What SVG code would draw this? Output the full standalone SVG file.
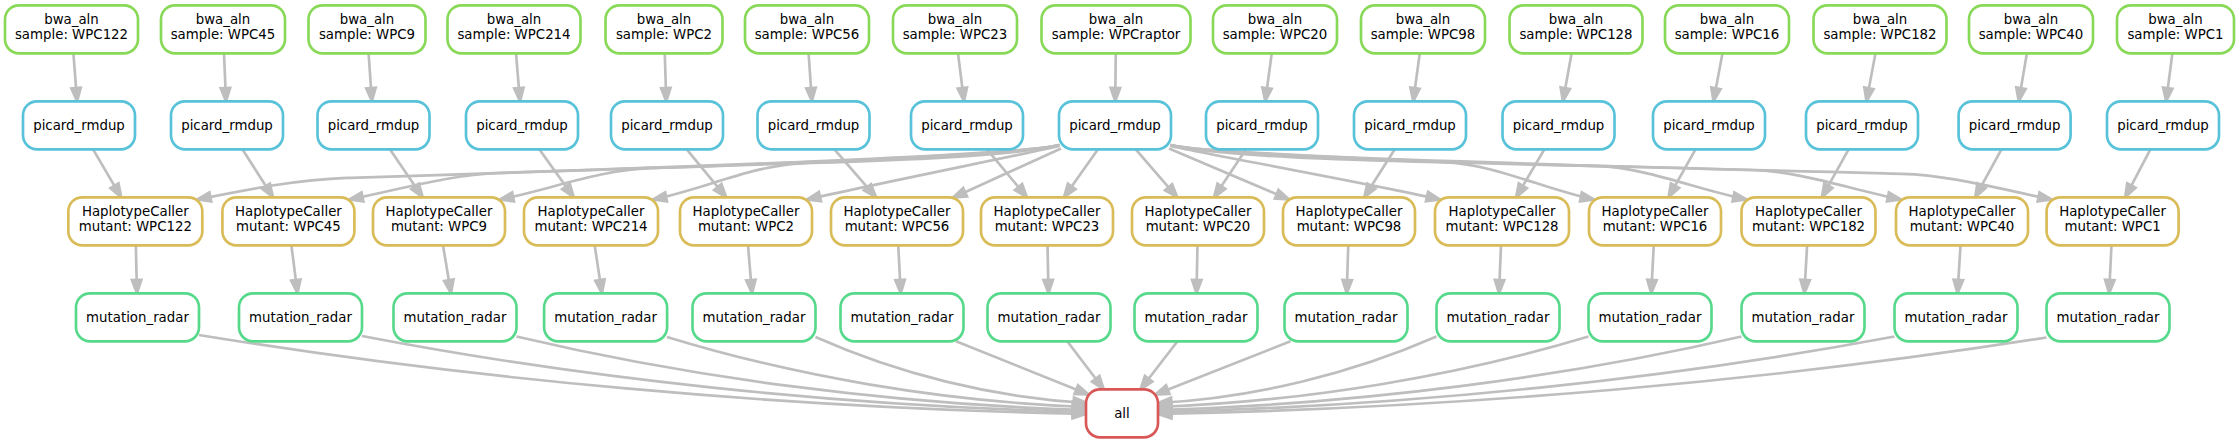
<svg xmlns="http://www.w3.org/2000/svg" width="2239" height="443" viewBox="0 0 2239 443">
<style>
.node rect { fill:#ffffff; stroke-width:2.67; }
.bwa rect { stroke:#88d957; }
.pic rect { stroke:#57c2d9; }
.hc rect { stroke:#d9bc57; }
.mr rect { stroke:#57d98b; }
.all rect { stroke:#d95757; }
text { font-family:"DejaVu Sans", "Liberation Sans", sans-serif; font-size:13.33px; text-anchor:middle; fill:#000000; }
#edges path { fill:none; stroke:#bebebe; stroke-width:2.67; marker-end:url(#ah); }
</style>
<defs>
<marker id="ah" markerUnits="userSpaceOnUse" orient="auto" refX="13.3" refY="0" markerWidth="20" markerHeight="20" style="overflow:visible">
<path d="M0,-4.7 L13.3,0 L0,4.7 Z" fill="#bebebe" stroke="#bebebe" stroke-width="2.67"/>
</marker>
</defs>
<rect width="2239" height="443" fill="#ffffff"/>
<g id="edges">
<path d="M73.4,53.3 L77.1,101.3"/>
<path d="M224,53.3 L226,101.3"/>
<path d="M368.6,53.3 L371.9,101.3"/>
<path d="M516,53.3 L520,101.3"/>
<path d="M664.75,53.3 L666.25,101.3"/>
<path d="M808.6,53.3 L811.9,101.3"/>
<path d="M958,53.3 L964,101.3"/>
<path d="M1115.75,53.3 L1115.25,101.3"/>
<path d="M1271.75,53.3 L1265.25,101.3"/>
<path d="M1419.75,53.3 L1413.25,101.3"/>
<path d="M1571.6,53.3 L1562.9,101.3"/>
<path d="M1722.5,53.3 L1713.5,101.3"/>
<path d="M1875.5,53.3 L1866.5,101.3"/>
<path d="M2026.9,53.3 L2018.7,101.3"/>
<path d="M2172.4,53.3 L2166.1,101.3"/>
<path d="M93.1,149.3 L121.2,197.3"/>
<path d="M242.4,149.3 L273.05,197.3"/>
<path d="M389.9,149.3 L422.6,197.3"/>
<path d="M539.25,149.3 L573.75,197.3"/>
<path d="M686.75,149.3 L726.25,197.3"/>
<path d="M834.4,149.3 L876.1,197.3"/>
<path d="M987,149.3 L1027,197.3"/>
<path d="M1246,149.3 L1214,197.3"/>
<path d="M1394.75,149.3 L1364.25,197.3"/>
<path d="M1544.4,149.3 L1516.1,197.3"/>
<path d="M1695.5,149.3 L1668.5,197.3"/>
<path d="M1848.6,149.3 L1821.9,197.3"/>
<path d="M2001.45,149.3 L1975.15,197.3"/>
<path d="M2150.4,149.3 L2125.2,197.3"/>
<path d="M1098,149.3 L1064,197.3"/>
<path d="M1135.75,149.3 L1177.25,197.3"/>
<path d="M1061,148.5 L953,197.7"/>
<path d="M1169,148.5 L1289,199.4"/>
<path d="M1059.5,146 C1030,153 870,185 807,199.5"/>
<path d="M1170.5,146 C1200,153 1377,185 1440,199.5"/>
<path d="M1059.5,145 C1010,157 880,160.8 803,163.3 C753,164.9 703,189.5 653,199.5"/>
<path d="M1059.5,145 C1010,157 772.9,164.3 650,168.2 C600,169.8 550,189.5 500,199.5"/>
<path d="M1059.5,145 C1010,157 667.4,167.6 499.4,173 C449.4,174.6 399.4,189.5 349.4,199.5"/>
<path d="M1059.5,145 C1010,157 561,171.1 347.3,177.9 C297.3,179.5 247.3,189.5 197.3,199.5"/>
<path d="M1170.5,145 C1220,157 1362,160.3 1444,162.35 C1494,163.6 1544,189.5 1594,199.5"/>
<path d="M1170.5,145 C1220,157 1468.7,163 1596.5,166.2 C1646.5,167.4 1696.5,189.5 1746.5,199.5"/>
<path d="M1170.5,145 C1220,157 1576.8,165.7 1751,170 C1801,171.3 1851,189.5 1901,199.5"/>
<path d="M1170.5,145 C1220,157 1682.3,168.3 1901.6,173.8 C1951.6,175.1 2001.6,189.5 2051.6,199.5"/>
<path d="M135.85,245.3 L136.95,293.3"/>
<path d="M291.4,245.3 L297.5,293.3"/>
<path d="M443,245.3 L451,293.3"/>
<path d="M594.65,245.3 L601.95,293.3"/>
<path d="M748,245.3 L752,293.3"/>
<path d="M898.25,245.3 L900.75,293.3"/>
<path d="M1047.5,245.3 L1048.5,293.3"/>
<path d="M1197.5,245.3 L1196.5,293.3"/>
<path d="M1348.25,245.3 L1346.75,293.3"/>
<path d="M1501,245.3 L1499,293.3"/>
<path d="M1653.75,245.3 L1651.25,293.3"/>
<path d="M1807.1,245.3 L1804.4,293.3"/>
<path d="M1960.5,245.3 L1957.5,293.3"/>
<path d="M2111.45,245.3 L2109.15,293.3"/>
<path d="M199,335 C465,378.5 776,407.7 1086,414"/>
<path d="M362,336 C579.2,377.8 832.6,405.9 1086,412"/>
<path d="M516.5,336.5 C687.4,376.9 886.7,404.1 1086,410"/>
<path d="M667,337 C792.7,375.5 939.4,401.4 1086,407"/>
<path d="M815.5,337 C897,373.3 992,397.7 1087,403"/>
<path d="M956,341.3 L1088.6,394.5"/>
<path d="M1067.25,341.3 L1103.75,389.3"/>
<path d="M1177.5,341.3 L1140.5,389.3"/>
<path d="M1290.5,341.3 L1155.4,394.5"/>
<path d="M1436.5,336.5 C1352.9,373.1 1255.5,397.7 1158,403"/>
<path d="M1588.5,336.5 C1459.4,375.3 1308.7,401.4 1158,407"/>
<path d="M1741.5,336.5 C1566.5,376.9 1362.2,404.1 1158,410"/>
<path d="M1894.5,336.5 C1673.6,378 1415.8,406 1158,412"/>
<path d="M2046.5,337.5 C1780,379.6 1469,407.9 1158,414"/>
</g>
<g id="n_bwa_WPC122" class="node bwa"><rect x="5" y="5.3" width="133" height="48" rx="14"/><text x="71.5" y="24.3">bwa_aln</text><text x="71.5" y="38.9">sample: WPC122</text></g>
<g id="n_bwa_WPC45" class="node bwa"><rect x="161" y="5.3" width="124" height="48" rx="14"/><text x="223" y="24.3">bwa_aln</text><text x="223" y="38.9">sample: WPC45</text></g>
<g id="n_bwa_WPC9" class="node bwa"><rect x="308.5" y="5.3" width="117" height="48" rx="14"/><text x="367" y="24.3">bwa_aln</text><text x="367" y="38.9">sample: WPC9</text></g>
<g id="n_bwa_WPC214" class="node bwa"><rect x="447.5" y="5.3" width="133" height="48" rx="14"/><text x="514" y="24.3">bwa_aln</text><text x="514" y="38.9">sample: WPC214</text></g>
<g id="n_bwa_WPC2" class="node bwa"><rect x="605.5" y="5.3" width="117" height="48" rx="14"/><text x="664" y="24.3">bwa_aln</text><text x="664" y="38.9">sample: WPC2</text></g>
<g id="n_bwa_WPC56" class="node bwa"><rect x="745" y="5.3" width="124" height="48" rx="14"/><text x="807" y="24.3">bwa_aln</text><text x="807" y="38.9">sample: WPC56</text></g>
<g id="n_bwa_WPC23" class="node bwa"><rect x="893" y="5.3" width="124" height="48" rx="14"/><text x="955" y="24.3">bwa_aln</text><text x="955" y="38.9">sample: WPC23</text></g>
<g id="n_bwa_WPCraptor" class="node bwa"><rect x="1041.5" y="5.3" width="149" height="48" rx="14"/><text x="1116" y="24.3">bwa_aln</text><text x="1116" y="38.9">sample: WPCraptor</text></g>
<g id="n_bwa_WPC20" class="node bwa"><rect x="1213" y="5.3" width="124" height="48" rx="14"/><text x="1275" y="24.3">bwa_aln</text><text x="1275" y="38.9">sample: WPC20</text></g>
<g id="n_bwa_WPC98" class="node bwa"><rect x="1361" y="5.3" width="124" height="48" rx="14"/><text x="1423" y="24.3">bwa_aln</text><text x="1423" y="38.9">sample: WPC98</text></g>
<g id="n_bwa_WPC128" class="node bwa"><rect x="1509.5" y="5.3" width="133" height="48" rx="14"/><text x="1576" y="24.3">bwa_aln</text><text x="1576" y="38.9">sample: WPC128</text></g>
<g id="n_bwa_WPC16" class="node bwa"><rect x="1665" y="5.3" width="124" height="48" rx="14"/><text x="1727" y="24.3">bwa_aln</text><text x="1727" y="38.9">sample: WPC16</text></g>
<g id="n_bwa_WPC182" class="node bwa"><rect x="1813.5" y="5.3" width="133" height="48" rx="14"/><text x="1880" y="24.3">bwa_aln</text><text x="1880" y="38.9">sample: WPC182</text></g>
<g id="n_bwa_WPC40" class="node bwa"><rect x="1969" y="5.3" width="124" height="48" rx="14"/><text x="2031" y="24.3">bwa_aln</text><text x="2031" y="38.9">sample: WPC40</text></g>
<g id="n_bwa_WPC1" class="node bwa"><rect x="2117" y="5.3" width="117" height="48" rx="14"/><text x="2175.5" y="24.3">bwa_aln</text><text x="2175.5" y="38.9">sample: WPC1</text></g>
<g id="n_pic_WPC122" class="node pic"><rect x="23" y="101.3" width="112" height="48" rx="14"/><text x="79" y="130.2">picard_rmdup</text></g>
<g id="n_pic_WPC45" class="node pic"><rect x="171" y="101.3" width="112" height="48" rx="14"/><text x="227" y="130.2">picard_rmdup</text></g>
<g id="n_pic_WPC9" class="node pic"><rect x="317.5" y="101.3" width="112" height="48" rx="14"/><text x="373.5" y="130.2">picard_rmdup</text></g>
<g id="n_pic_WPC214" class="node pic"><rect x="466" y="101.3" width="112" height="48" rx="14"/><text x="522" y="130.2">picard_rmdup</text></g>
<g id="n_pic_WPC2" class="node pic"><rect x="611" y="101.3" width="112" height="48" rx="14"/><text x="667" y="130.2">picard_rmdup</text></g>
<g id="n_pic_WPC56" class="node pic"><rect x="757.5" y="101.3" width="112" height="48" rx="14"/><text x="813.5" y="130.2">picard_rmdup</text></g>
<g id="n_pic_WPC23" class="node pic"><rect x="911" y="101.3" width="112" height="48" rx="14"/><text x="967" y="130.2">picard_rmdup</text></g>
<g id="n_pic_WPCraptor" class="node pic"><rect x="1059" y="101.3" width="112" height="48" rx="14"/><text x="1115" y="130.2">picard_rmdup</text></g>
<g id="n_pic_WPC20" class="node pic"><rect x="1206" y="101.3" width="112" height="48" rx="14"/><text x="1262" y="130.2">picard_rmdup</text></g>
<g id="n_pic_WPC98" class="node pic"><rect x="1354" y="101.3" width="112" height="48" rx="14"/><text x="1410" y="130.2">picard_rmdup</text></g>
<g id="n_pic_WPC128" class="node pic"><rect x="1502.5" y="101.3" width="112" height="48" rx="14"/><text x="1558.5" y="130.2">picard_rmdup</text></g>
<g id="n_pic_WPC16" class="node pic"><rect x="1653" y="101.3" width="112" height="48" rx="14"/><text x="1709" y="130.2">picard_rmdup</text></g>
<g id="n_pic_WPC182" class="node pic"><rect x="1806" y="101.3" width="112" height="48" rx="14"/><text x="1862" y="130.2">picard_rmdup</text></g>
<g id="n_pic_WPC40" class="node pic"><rect x="1958.6" y="101.3" width="112" height="48" rx="14"/><text x="2014.6" y="130.2">picard_rmdup</text></g>
<g id="n_pic_WPC1" class="node pic"><rect x="2107" y="101.3" width="112" height="48" rx="14"/><text x="2163" y="130.2">picard_rmdup</text></g>
<g id="n_hc_WPC122" class="node hc"><rect x="68.3" y="197.3" width="134" height="48" rx="14"/><text x="135.3" y="216.2">HaplotypeCaller</text><text x="135.3" y="230.9">mutant: WPC122</text></g>
<g id="n_hc_WPC45" class="node hc"><rect x="222.4" y="197.3" width="132" height="48" rx="14"/><text x="288.4" y="216.2">HaplotypeCaller</text><text x="288.4" y="230.9">mutant: WPC45</text></g>
<g id="n_hc_WPC9" class="node hc"><rect x="373" y="197.3" width="132" height="48" rx="14"/><text x="439" y="216.2">HaplotypeCaller</text><text x="439" y="230.9">mutant: WPC9</text></g>
<g id="n_hc_WPC214" class="node hc"><rect x="524" y="197.3" width="134" height="48" rx="14"/><text x="591" y="216.2">HaplotypeCaller</text><text x="591" y="230.9">mutant: WPC214</text></g>
<g id="n_hc_WPC2" class="node hc"><rect x="680" y="197.3" width="132" height="48" rx="14"/><text x="746" y="216.2">HaplotypeCaller</text><text x="746" y="230.9">mutant: WPC2</text></g>
<g id="n_hc_WPC56" class="node hc"><rect x="831" y="197.3" width="132" height="48" rx="14"/><text x="897" y="216.2">HaplotypeCaller</text><text x="897" y="230.9">mutant: WPC56</text></g>
<g id="n_hc_WPC23" class="node hc"><rect x="981" y="197.3" width="132" height="48" rx="14"/><text x="1047" y="216.2">HaplotypeCaller</text><text x="1047" y="230.9">mutant: WPC23</text></g>
<g id="n_hc_WPC20" class="node hc"><rect x="1132" y="197.3" width="132" height="48" rx="14"/><text x="1198" y="216.2">HaplotypeCaller</text><text x="1198" y="230.9">mutant: WPC20</text></g>
<g id="n_hc_WPC98" class="node hc"><rect x="1283" y="197.3" width="132" height="48" rx="14"/><text x="1349" y="216.2">HaplotypeCaller</text><text x="1349" y="230.9">mutant: WPC98</text></g>
<g id="n_hc_WPC128" class="node hc"><rect x="1435" y="197.3" width="134" height="48" rx="14"/><text x="1502" y="216.2">HaplotypeCaller</text><text x="1502" y="230.9">mutant: WPC128</text></g>
<g id="n_hc_WPC16" class="node hc"><rect x="1589" y="197.3" width="132" height="48" rx="14"/><text x="1655" y="216.2">HaplotypeCaller</text><text x="1655" y="230.9">mutant: WPC16</text></g>
<g id="n_hc_WPC182" class="node hc"><rect x="1741.5" y="197.3" width="134" height="48" rx="14"/><text x="1808.5" y="216.2">HaplotypeCaller</text><text x="1808.5" y="230.9">mutant: WPC182</text></g>
<g id="n_hc_WPC40" class="node hc"><rect x="1896" y="197.3" width="132" height="48" rx="14"/><text x="1962" y="216.2">HaplotypeCaller</text><text x="1962" y="230.9">mutant: WPC40</text></g>
<g id="n_hc_WPC1" class="node hc"><rect x="2046.6" y="197.3" width="132" height="48" rx="14"/><text x="2112.6" y="216.2">HaplotypeCaller</text><text x="2112.6" y="230.9">mutant: WPC1</text></g>
<g id="n_mr_WPC122" class="node mr"><rect x="76" y="293.3" width="123" height="48" rx="14"/><text x="137.5" y="322.2">mutation_radar</text></g>
<g id="n_mr_WPC45" class="node mr"><rect x="239" y="293.3" width="123" height="48" rx="14"/><text x="300.5" y="322.2">mutation_radar</text></g>
<g id="n_mr_WPC9" class="node mr"><rect x="393.5" y="293.3" width="123" height="48" rx="14"/><text x="455" y="322.2">mutation_radar</text></g>
<g id="n_mr_WPC214" class="node mr"><rect x="544.1" y="293.3" width="123" height="48" rx="14"/><text x="605.6" y="322.2">mutation_radar</text></g>
<g id="n_mr_WPC2" class="node mr"><rect x="692.5" y="293.3" width="123" height="48" rx="14"/><text x="754" y="322.2">mutation_radar</text></g>
<g id="n_mr_WPC56" class="node mr"><rect x="840.5" y="293.3" width="123" height="48" rx="14"/><text x="902" y="322.2">mutation_radar</text></g>
<g id="n_mr_WPC23" class="node mr"><rect x="987.5" y="293.3" width="123" height="48" rx="14"/><text x="1049" y="322.2">mutation_radar</text></g>
<g id="n_mr_WPC20" class="node mr"><rect x="1134.5" y="293.3" width="123" height="48" rx="14"/><text x="1196" y="322.2">mutation_radar</text></g>
<g id="n_mr_WPC98" class="node mr"><rect x="1284.5" y="293.3" width="123" height="48" rx="14"/><text x="1346" y="322.2">mutation_radar</text></g>
<g id="n_mr_WPC128" class="node mr"><rect x="1436.5" y="293.3" width="123" height="48" rx="14"/><text x="1498" y="322.2">mutation_radar</text></g>
<g id="n_mr_WPC16" class="node mr"><rect x="1588.5" y="293.3" width="123" height="48" rx="14"/><text x="1650" y="322.2">mutation_radar</text></g>
<g id="n_mr_WPC182" class="node mr"><rect x="1741.5" y="293.3" width="123" height="48" rx="14"/><text x="1803" y="322.2">mutation_radar</text></g>
<g id="n_mr_WPC40" class="node mr"><rect x="1894.5" y="293.3" width="123" height="48" rx="14"/><text x="1956" y="322.2">mutation_radar</text></g>
<g id="n_mr_WPC1" class="node mr"><rect x="2046.5" y="293.3" width="123" height="48" rx="14"/><text x="2108" y="322.2">mutation_radar</text></g>
<g id="n_all" class="node all"><rect x="1086" y="389.3" width="72" height="48" rx="14"/><text x="1122" y="418.2">all</text></g>
</svg>
